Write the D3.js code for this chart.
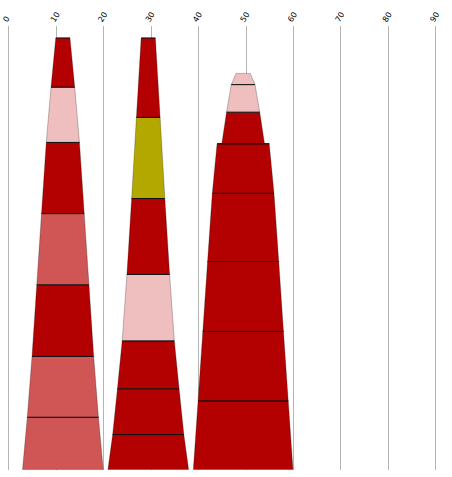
<!DOCTYPE html>
<html>
<head>
<meta charset="utf-8">
<script src="https://cdn.jsdelivr.net/npm/d3@7"></script>
<style>
body { margin: 0; background: #fff; }
svg { display: block; }
</style>
</head>
<body>
<div id="chart"></div>
<script>
// tick labels of the top axis
var xTicks = [0, 10, 20, 30, 40, 50, 60, 70, 80, 90];

// the three stacks, segment values listed bottom to top
var coneNames = ["cone1", "cone2", "cone3"];
var cone1Values = [12.1, 14.1, 16.6, 16.5, 16.5, 12.8, 11.4];
var cone2Values = [8.1, 10.6, 11.1, 15.4, 17.6, 18.8, 18.4];
var cone3Values = [15.9, 16.1, 16.2, 15.8, 11.5, 0, 7.3, 6.4, 2.6];

// segment kinds, bottom to top
var cone1Kinds = ["light", "light", "dark", "light", "dark", "pale", "dark"];
var cone2Kinds = ["dark", "dark", "dark", "pale", "dark", "olive", "dark"];
var cone3Kinds = ["dark", "dark", "dark", "dark", "dark", "dark", "dark", "pale", "pale"];

var kinds = ["dark", "light", "pale", "olive"];

var cones = [
	{name: coneNames[0], values: cone1Values, kinds: cone1Kinds},
	{name: coneNames[1], values: cone2Values, kinds: cone2Kinds},
	{name: coneNames[2], values: cone3Values, kinds: cone3Kinds}
];

var W = 452, H = 477;
var x0 = 8.3, x1 = 435.3;
var yBase = 469.5, yTop = 38;
var gridTop = 26, gridBottom = 470;

// the cones are laid side by side along the x axis
var firstStart = 3, coneGap = 1, topWidth = 3, widthStep = 2;

var x = d3.scaleLinear().domain([0, 90]).range([x0, x1]);
var y = d3.scaleLinear().domain([0, 100]).range([yBase, yTop]);
var color = d3.scaleOrdinal().domain(kinds)
	.range(["#b30000", "#d05555", "#efbfbf", "#b3a800"]);

var svg = d3.select("#chart").append("svg")
	.attr("width", W).attr("height", H);

// axis on top, ticks stretched into gridlines
var axis = svg.append("g")
	.attr("transform", "translate(0," + gridTop + ")")
	.call(d3.axisTop(x).tickValues(xTicks).tickSize(-(gridBottom - gridTop)).tickPadding(0));
axis.select(".domain").remove();
axis.selectAll(".tick line")
	.attr("stroke", "#b4b4b4")
	.attr("stroke-width", 1)
	.attr("shape-rendering", "crispEdges");
axis.selectAll(".tick text")
	.attr("x", 2).attr("y", -3).attr("dy", 0)
	.attr("transform", "rotate(-58)")
	.style("text-anchor", "start")
	.style("font-family", "DejaVu Sans, sans-serif")
	.style("font-size", "8px")
	.attr("fill", "#000");

var start = firstStart;
cones.forEach(function(c){
	var n = c.values.length;
	var base = topWidth + widthStep * n;
	var center = start + base / 2;
	var tops = d3.cumsum(c.values);
	var g = svg.append("g").attr("class", c.name);

	c.values.forEach(function(v, j){
		var lo = j === 0 ? 0 : tops[j - 1];
		var hi = tops[j];
		var wb = (topWidth + widthStep * (n - j)) / 2;
		var wt = (topWidth + widthStep * (n - j - 1)) / 2;
		var pts = [
			[x(center - wb), y(lo)],
			[x(center + wb), y(lo)],
			[x(center + wt), y(hi)],
			[x(center - wt), y(hi)]
		];
		g.append("path")
			.attr("d", "M" + pts.join("L") + "Z")
			.attr("fill", color(c.kinds[j]))
			.attr("stroke", "rgba(0,0,0,0.35)")
			.attr("stroke-width", 0.7);
	});

	// dark edge on top of each segment
	c.values.forEach(function(v, j){
		var hi = tops[j];
		var wt = (topWidth + widthStep * (n - j - 1)) / 2;
		if (j === n - 1 && c.name === "cone3") return;
		g.append("line")
			.attr("x1", x(center - wt)).attr("x2", x(center + wt))
			.attr("y1", y(hi)).attr("y2", y(hi))
			.attr("stroke", "#111")
			.attr("stroke-width", 1);
	});

	start += base + coneGap;
});
</script>
</body>
</html>
